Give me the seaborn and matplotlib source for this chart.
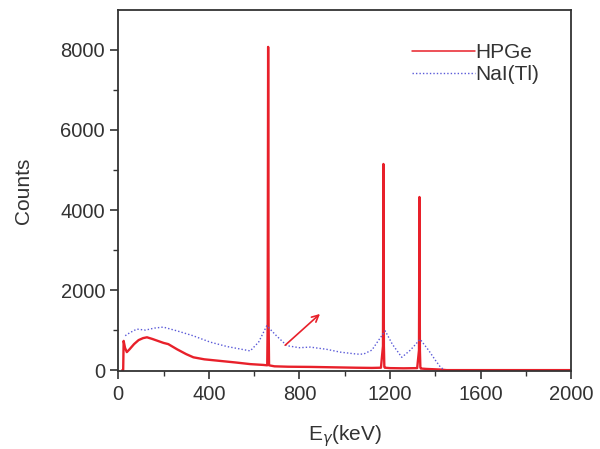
import numpy as np
import pandas as pd
import matplotlib
matplotlib.use("Agg")
import matplotlib.pyplot as plt
import seaborn as sns

# ---- data ----
hpge_e = [18, 22, 24, 30, 38, 50, 70, 90, 110, 127, 150, 180, 200, 221, 260, 300, 332,
          380, 450, 520, 583, 640, 658, 660, 662, 664, 666, 690, 750, 850, 950, 1050,
          1120, 1160, 1169, 1171, 1173, 1175, 1177, 1200, 1260, 1320, 1328, 1330, 1332,
          1334, 1336, 1360, 1420, 1450, 1600, 2000]
hpge_c = [0, 0, 730, 560, 450, 520, 650, 750, 800, 820, 780, 720, 680, 650, 520, 400, 320,
          270, 230, 190, 150, 130, 120, 1200, 8075, 1200, 120, 95, 85, 80, 70, 60,
          55, 60, 600, 5150, 600, 80, 60, 50, 45, 50, 500, 4325, 500, 70, 40, 30, 15, 0, 0, 0]

nai_e = [31, 50, 82, 120, 160, 199, 260, 330, 406, 480, 583, 620, 656, 700, 745, 800, 848,
         920, 980, 1054, 1083, 1120, 1150, 1179, 1210, 1252, 1290, 1333, 1370, 1400, 1422, 1440]
nai_c = [860, 930, 1025, 1000, 1050, 1075, 980, 860, 700, 590, 480, 700, 1110, 850, 610, 560,
         575, 520, 450, 400, 400, 500, 750, 980, 650, 320, 500, 770, 500, 250, 80, 0]

hpge = pd.DataFrame({"E": hpge_e, "Counts": hpge_c})
nai = pd.DataFrame({"E": nai_e, "Counts": nai_c})

sns.set_theme(style="ticks")
plt.rcParams["font.family"] = ["Liberation Sans", "DejaVu Sans"]
plt.rcParams.update({
    "xtick.direction": "out",
    "ytick.direction": "out",
    "axes.edgecolor": "#333333",
    "axes.linewidth": 1.3,
})

fig = plt.figure(figsize=(6.0, 4.49), dpi=100)
ax = fig.add_axes([0.197, 0.173, 0.755, 0.805])

sns.lineplot(data=hpge, x="E", y="Counts", ax=ax, color="#e8202a", lw=1.7,
             label="HPGe", estimator=None, sort=False)
sns.lineplot(data=nai, x="E", y="Counts", ax=ax, color="#5a5ad8", lw=1.0,
             linestyle=(0, (1, 1.5)), label="NaI(Tl)", estimator=None, sort=False)

# hand-drawn arrow in the original
ax.annotate("", xy=(900, 1450), xytext=(728, 575),
            arrowprops=dict(arrowstyle="->", color="#e8202a", lw=1.2))

ax.set_xlim(0, 2000)
ax.set_ylim(-30, 9000)
ax.set_xticks([0, 400, 800, 1200, 1600, 2000])
ax.set_xticks(np.arange(200, 2000, 400), minor=True)
ax.set_yticks([0, 2000, 4000, 6000, 8000])
ax.set_yticks(np.arange(1000, 9000, 2000), minor=True)
ax.tick_params(which="major", length=6, width=1.2, labelsize=14.5, colors="#333333")
ax.tick_params(which="minor", length=3.5, width=1.0, colors="#333333")
for s in ax.spines.values():
    s.set_visible(True)

ax.set_xlabel(r"E$_{\gamma}$(keV)", fontsize=15, color="#333333", labelpad=14)
ax.set_ylabel("Counts", fontsize=15, color="#333333", labelpad=20)

leg = ax.legend(loc="upper right", frameon=False, fontsize=15, handlelength=3.0,
                handletextpad=0.0, labelspacing=0.15, bbox_to_anchor=(0.97, 0.96))
for t in leg.get_texts():
    t.set_color("#333333")
leg.get_lines()[0].set_linewidth(1.1)

fig.savefig("out.png", dpi=100)
